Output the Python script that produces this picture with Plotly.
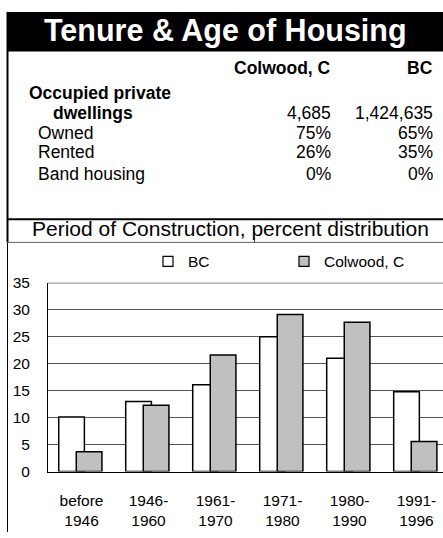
import plotly.graph_objects as go

# ---- data ----
categories = ["before<br>1946", "1946-<br>1960", "1961-<br>1970", "1971-<br>1980", "1980-<br>1990", "1991-<br>1996"]
bc_values = [10.1, 13.0, 16.1, 25.0, 21.0, 14.8]
colwood_values = [3.7, 12.3, 21.6, 29.1, 27.7, 5.6]
y_ticks = [0, 5, 10, 15, 20, 25, 30, 35]

title_text = "Tenure & Age of Housing"
chart_title = "Period of Construction, percent distribution"
col_headers = ["Colwood, C", "BC"]
dwell_label = ["Occupied private", "dwellings"]
dwell_values = ["4,685", "1,424,635"]
tenure_labels = ["Owned", "Rented", "Band housing"]
tenure_colwood = ["75%", "26%", "0%"]
tenure_bc = ["65%", "35%", "0%"]

W, H = 443, 538
FONT = "Liberation Sans, Arial, sans-serif"


def X(px):
    return px / W


def Y(py):
    return 1 - py / H


fig = go.Figure()

fig.add_trace(go.Bar(x=categories, y=bc_values, name="BC", width=0.383, offset=-0.34,
                     marker=dict(color="white", line=dict(color="black", width=1.5)),
                     showlegend=False))
fig.add_trace(go.Bar(x=categories, y=colwood_values, name="Colwood, C", width=0.383, offset=-0.078,
                     marker=dict(color="#c0c0c0", line=dict(color="black", width=1.5)),
                     showlegend=False))
# legend entries
fig.add_trace(go.Scatter(x=[None], y=[None], mode="markers", name="BC", legend="legend",
                         marker=dict(symbol="square", size=10, color="white", line=dict(color="black", width=1.2))))
fig.add_trace(go.Scatter(x=[None], y=[None], mode="markers", name="Colwood, C", legend="legend2",
                         marker=dict(symbol="square", size=10, color="#c0c0c0", line=dict(color="black", width=1.2))))

shapes = [
    # title bar
    dict(type="rect", xref="paper", yref="paper", x0=X(7), x1=X(445), y0=Y(3), y1=Y(44),
         fillcolor="black", line=dict(width=0), layer="below"),
    # left border thick
    dict(type="line", xref="paper", yref="paper", x0=X(7.5), x1=X(7.5), y0=Y(3), y1=Y(241),
         line=dict(color="black", width=2)),
    # left border thin
    dict(type="line", xref="paper", yref="paper", x0=X(7.5), x1=X(7.5), y0=Y(241), y1=Y(540),
         line=dict(color="black", width=1)),
    # thick separator
    dict(type="line", xref="paper", yref="paper", x0=X(7), x1=X(445), y0=Y(217), y1=Y(217),
         line=dict(color="black", width=2)),
    # thin separator
    dict(type="line", xref="paper", yref="paper", x0=X(7), x1=X(445), y0=Y(241), y1=Y(241),
         line=dict(color="#606060", width=1)),
    dict(type="line", xref="paper", yref="paper", x0=X(254.5), x1=X(254.5), y0=Y(236), y1=Y(241),
         line=dict(color="#404040", width=1)),
    # top border of plot area
    dict(type="line", xref="paper", yref="y", x0=X(48), x1=X(445), y0=35, y1=35,
         line=dict(color="black", width=1)),
]

ann = []
ann.append(dict(text=title_text, x=X(226), y=Y(22), xref="paper", yref="paper", showarrow=False,
                xanchor="center", yanchor="middle",
                font=dict(family=FONT, size=30.5, color="white", weight="bold")))
ann.append(dict(text=chart_title, x=X(230.5), y=Y(227), xref="paper", yref="paper", showarrow=False,
                xanchor="center", yanchor="middle", font=dict(family=FONT, size=21, color="black")))

fs = 17.5
ann.append(dict(text=col_headers[0], x=X(333), y=Y(60.7), xref="paper", yref="paper", showarrow=False,
                xanchor="right", yanchor="middle", font=dict(family=FONT, size=fs, color="black", weight="bold")))
ann.append(dict(text=col_headers[1], x=X(434.5), y=Y(60.7), xref="paper", yref="paper", showarrow=False,
                xanchor="right", yanchor="middle", font=dict(family=FONT, size=fs, color="black", weight="bold")))
ann.append(dict(text=dwell_label[0], x=X(27), y=Y(87), xref="paper", yref="paper", showarrow=False,
                xanchor="left", yanchor="middle", font=dict(family=FONT, size=fs, color="black", weight="bold")))
ann.append(dict(text=dwell_label[1], x=X(51), y=Y(107), xref="paper", yref="paper", showarrow=False,
                xanchor="left", yanchor="middle", font=dict(family=FONT, size=fs, color="black", weight="bold")))
ann.append(dict(text=dwell_values[0], x=X(333), y=Y(107), xref="paper", yref="paper", showarrow=False,
                xanchor="right", yanchor="middle", font=dict(family=FONT, size=fs, color="black")))
ann.append(dict(text=dwell_values[1], x=X(434.5), y=Y(107), xref="paper", yref="paper", showarrow=False,
                xanchor="right", yanchor="middle", font=dict(family=FONT, size=fs, color="black")))
row_y = [127.7, 147.7, 170.4]
for lab, cv, bv, ry in zip(tenure_labels, tenure_colwood, tenure_bc, row_y):
    ann.append(dict(text=lab, x=X(36), y=Y(ry), xref="paper", yref="paper", showarrow=False,
                    xanchor="left", yanchor="middle", font=dict(family=FONT, size=fs, color="black")))
    ann.append(dict(text=cv, x=X(333), y=Y(ry), xref="paper", yref="paper", showarrow=False,
                    xanchor="right", yanchor="middle", font=dict(family=FONT, size=fs, color="black")))
    ann.append(dict(text=bv, x=X(434.5), y=Y(ry), xref="paper", yref="paper", showarrow=False,
                    xanchor="right", yanchor="middle", font=dict(family=FONT, size=fs, color="black")))

fig.update_layout(
    width=W, height=H, autosize=False,
    margin=dict(l=0, r=0, t=0, b=0),
    paper_bgcolor="white", plot_bgcolor="white",
    barmode="overlay",
    font=dict(family=FONT, size=15, color="black"),
    shapes=shapes, annotations=ann,
    legend=dict(x=X(148), y=Y(261), xanchor="left", yanchor="middle", orientation="h",
                font=dict(family=FONT, size=15.5, color="black"), bgcolor="rgba(0,0,0,0)"),
    legend2=dict(x=X(284), y=Y(261), xanchor="left", yanchor="middle", orientation="h",
                 font=dict(family=FONT, size=15.5, color="black"), bgcolor="rgba(0,0,0,0)"),
    xaxis=dict(domain=[X(48), 1], range=[-0.5, 5.396], type="category",
               showline=True, linecolor="black", linewidth=1, showgrid=False,
               ticks="", ticklabelstandoff=15, tickfont=dict(family=FONT, size=15.5, color="black"),
               fixedrange=True),
    yaxis=dict(domain=[Y(477.7), Y(282.7)], range=[0, 35], tickvals=y_ticks,
               showline=True, linecolor="black", linewidth=1,
               showgrid=True, gridcolor="#555555", gridwidth=1, zeroline=False,
               ticks="", ticklabelstandoff=14, tickfont=dict(family=FONT, size=15.5, color="black"),
               fixedrange=True),
    showlegend=True,
)

fig.write_html("out.html", config={"displayModeBar": False},
               post_script="document.body.style.margin='0';document.body.style.overflow='hidden';")
